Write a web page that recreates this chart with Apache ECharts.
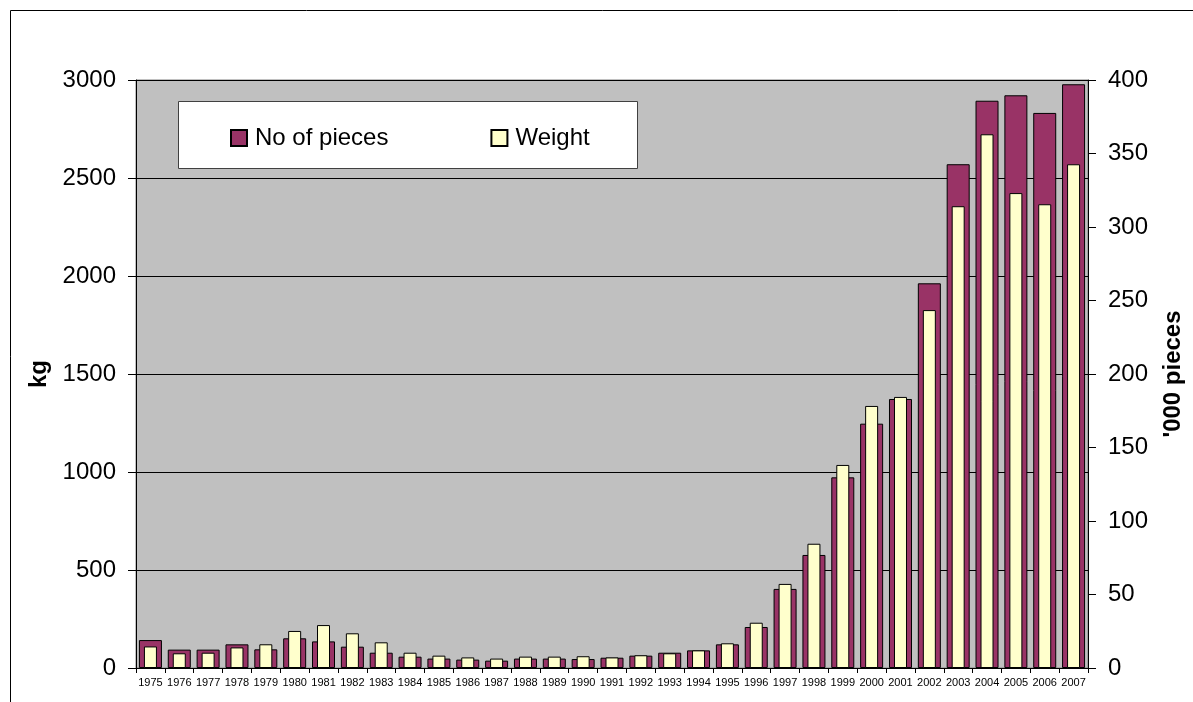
<!DOCTYPE html>
<html>
<head>
<meta charset="utf-8">
<script src="https://cdn.jsdelivr.net/npm/echarts@6/dist/echarts.min.js"></script>
<style>
html,body{margin:0;padding:0;background:#fff;}
#chart{width:1193px;height:702px;}
</style>
</head>
<body>
<div id="chart"></div>
<script>
var years = ['1975','1976','1977','1978','1979','1980','1981','1982','1983','1984','1985','1986','1987','1988','1989','1990','1991','1992','1993','1994','1995','1996','1997','1998','1999','2000','2001','2002','2003','2004','2005','2006','2007'];
// '000 pieces (right axis)
var pieces = [19.0,12.5,12.5,16.1,12.7,20.2,18.1,14.5,10.4,7.7,6.4,5.7,5.0,6.4,6.4,6.1,7.0,8.4,10.4,12.0,16.1,27.9,53.8,76.9,129.7,166.2,183,261.7,342.7,385.9,389.6,377.6,397.1];
// kg (left axis)
var weight = [110,75,78,105,121,189,219,177,131,78,63,54,48,58,58,60,54,65,75,90,126,231,429,634,1036,1337,1383,1826,2356,2723,2423,2366,2570];
var kgTicks = {min:0, max:3000, interval:500};
var pcsTicks = {min:0, max:400, interval:50};

var chart = echarts.init(document.getElementById('chart'), null, {renderer:'canvas'});
var font = 'Arial, "Liberation Sans", sans-serif';
function plain(v){ return String(v); }
chart.setOption({
  animation:false,
  textStyle:{fontFamily:font},
  grid:{left:136, right:99, top:80, bottom:34, show:true, backgroundColor:'#C0C0C0', borderColor:'#808080', borderWidth:1},
  graphic:[
    {type:'rect', z:-10, silent:true, shape:{x:10.5,y:10.5,width:1200,height:700}, style:{fill:'none', stroke:'#000', lineWidth:1}},
    {type:'rect', z:3, silent:true, shape:{x:178.5,y:101.5,width:459,height:67}, style:{fill:'#fff', stroke:'#404040', lineWidth:1}}
  ],
  legend:{
    z:10,
    left:230, top:126, padding:0,
    itemWidth:16, itemHeight:16, itemGap:102,
    icon:'rect',
    textStyle:{fontSize:24, color:'#000', fontFamily:font, padding:[0,0,0,3]},
    data:['No of pieces','Weight']
  },
  xAxis:[
    {type:'category', data:years, gridIndex:0,
     axisLine:{lineStyle:{color:'#000', width:1}},
     axisTick:{show:true, length:5, lineStyle:{color:'#000'}},
     axisLabel:{fontSize:11, color:'#000', margin:9, interval:0}},
    {type:'category', data:years, gridIndex:0, show:false}
  ],
  yAxis:[
    {type:'value', position:'left', min:kgTicks.min, max:kgTicks.max, interval:kgTicks.interval,
     name:'kg', nameLocation:'middle', nameRotate:90, nameGap:83,
     nameTextStyle:{fontSize:24, fontWeight:'bold', color:'#000'},
     axisLine:{show:true, lineStyle:{color:'#000'}},
     axisTick:{show:true, length:8, lineStyle:{color:'#000'}},
     axisLabel:{fontSize:24, color:'#000', margin:20, formatter:plain},
     splitLine:{show:true, lineStyle:{color:'#000', width:1}}},
    {type:'value', position:'right', min:pcsTicks.min, max:pcsTicks.max, interval:pcsTicks.interval,
     name:"'000 pieces", nameLocation:'middle', nameRotate:90, nameGap:73,
     nameTextStyle:{fontSize:24, fontWeight:'bold', color:'#000'},
     axisLine:{show:true, lineStyle:{color:'#000'}},
     axisTick:{show:true, length:8, lineStyle:{color:'#000'}},
     axisLabel:{fontSize:24, color:'#000', margin:20, formatter:plain},
     splitLine:{show:false}}
  ],
  series:[
    {name:'No of pieces', type:'bar', xAxisIndex:0, yAxisIndex:1, data:pieces, barWidth:23,
     itemStyle:{color:'#993366', borderColor:'#000', borderWidth:1}},
    {name:'Weight', type:'bar', xAxisIndex:1, yAxisIndex:0, data:weight, barWidth:13,
     itemStyle:{color:'#FFFFCC', borderColor:'#000', borderWidth:1}}
  ]
});
</script>
</body>
</html>
